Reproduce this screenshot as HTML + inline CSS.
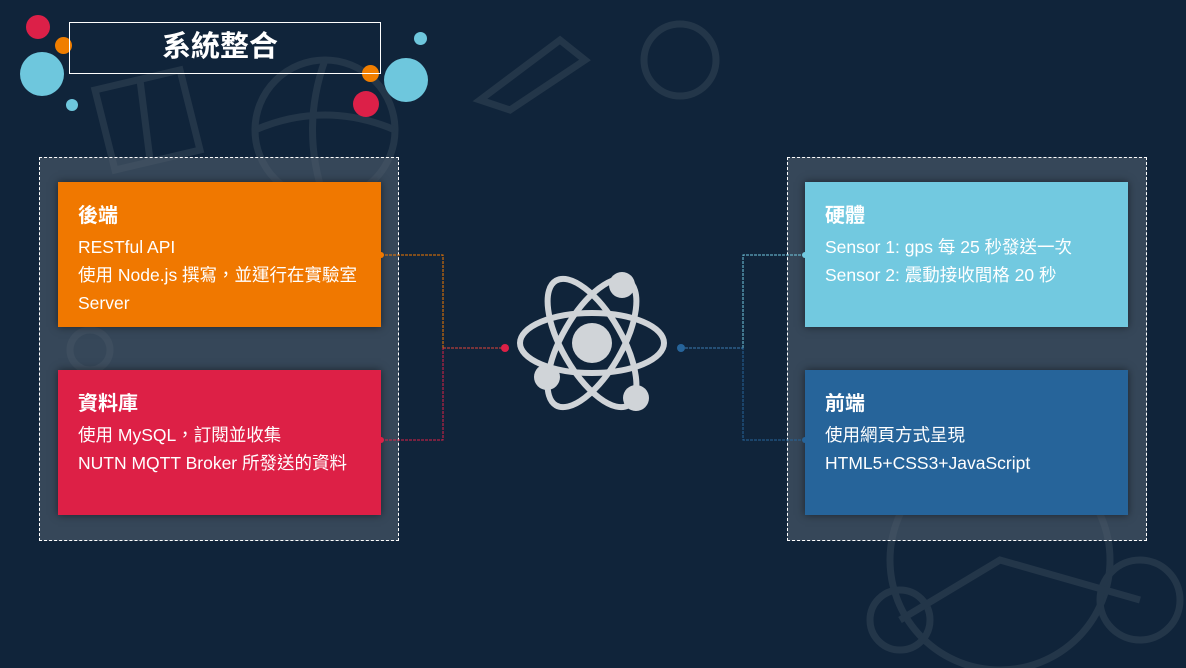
<!DOCTYPE html>
<html><head><meta charset="utf-8"><style>
body{margin:0;width:1186px;height:668px;overflow:hidden;background:#10243a;font-family:"Liberation Sans","Noto Sans CJK TC",sans-serif;position:relative}
.a{position:absolute}
.panel{position:absolute;background:rgba(80,95,110,0.6);border:1px dashed #fff;box-sizing:border-box}
.box{position:absolute;width:323px;height:145px;box-sizing:border-box;padding:17px 20px;color:#fff;box-shadow:0 0 8px rgba(0,0,0,.5)}
.box h3{margin:0 0 5px;font-size:20px;font-weight:bold}
.box p{margin:0;font-size:17.5px;line-height:28px}
.c{position:absolute;border-radius:50%}
</style></head><body>
<svg class="a" style="left:0;top:0" width="1186" height="668">
<g fill="none" stroke="#2c3e50" stroke-width="7" opacity="0.7">
<path d="M95 90 L180 70 L200 150 L115 170 Z"/><path d="M140 80 L150 160"/>
<circle cx="325" cy="130" r="70"/><path d="M255 130 Q325 100 395 130 M325 60 Q300 130 325 200"/>
<circle cx="680" cy="60" r="36"/><path d="M480 100 L560 40 L585 60 L510 110 Z"/>
<circle cx="1000" cy="560" r="110"/><circle cx="1140" cy="600" r="40"/><circle cx="900" cy="620" r="30"/><path d="M900 620 L1000 560 L1140 600"/>
<circle cx="90" cy="350" r="20"/>
</g>
</svg>
<div class="c" style="left:26px;top:15px;width:24px;height:24px;background:#dc2048"></div>
<div class="c" style="left:55px;top:37px;width:17px;height:17px;background:#f07e00"></div>
<div class="c" style="left:20px;top:52px;width:44px;height:44px;background:#6ec7dd"></div>
<div class="c" style="left:66px;top:99px;width:12px;height:12px;background:#6ec7dd"></div>
<div class="c" style="left:414px;top:32px;width:13px;height:13px;background:#6ec7dd"></div>
<div class="c" style="left:384px;top:58px;width:44px;height:44px;background:#6ec7dd"></div>
<div class="c" style="left:362px;top:65px;width:17px;height:17px;background:#f07e00"></div>
<div class="c" style="left:353px;top:91px;width:26px;height:26px;background:#dc2048"></div>
<div class="a" style="left:69px;top:22px;width:312px;height:52px;border:1px solid #fff;box-sizing:border-box;color:#fff;font-size:29px;font-weight:bold;text-align:center;line-height:48px;padding-right:10px">系統整合</div>
<div class="panel" style="left:39px;top:157px;width:360px;height:384px"></div>
<div class="panel" style="left:787px;top:157px;width:360px;height:384px"></div>
<div class="box" style="left:58px;top:182px;background:#f07800"><h3>後端</h3><p>RESTful API<br>使用 Node.js 撰寫，並運行在實驗室<br>Server</p></div>
<div class="box" style="left:58px;top:370px;background:#dd2046"><h3>資料庫</h3><p>使用 MySQL，訂閱並收集<br>NUTN MQTT Broker 所發送的資料</p></div>
<div class="box" style="left:805px;top:182px;background:#72c9e0"><h3>硬體</h3><p>Sensor 1: gps 每 25 秒發送一次<br>Sensor 2: 震動接收間格 20 秒</p></div>
<div class="box" style="left:805px;top:370px;background:#26649a"><h3>前端</h3><p>使用網頁方式呈現<br>HTML5+CSS3+JavaScript</p></div>
<svg class="a" style="left:0;top:0" width="1186" height="668">
<g fill="none" stroke-width="1" stroke-dasharray="3,1">
<path d="M381 255 H443 V348" stroke="#f07800"/><path d="M381 440 H443 V348" stroke="#dd2046"/><path d="M443 348 H505" stroke="#e0443a"/>
<path d="M805 255 H743 V348" stroke="#72c9e0"/><path d="M805 440 H743 V348" stroke="#26649a"/><path d="M681 348 H743" stroke="#3a7ab0"/>
</g>
<circle cx="381" cy="255" r="3" fill="#f07800"/><circle cx="381" cy="440" r="3" fill="#dd2046"/><circle cx="505" cy="348" r="4" fill="#dd2046"/>
<circle cx="805" cy="255" r="3" fill="#72c9e0"/><circle cx="805" cy="440" r="3" fill="#26649a"/><circle cx="681" cy="348" r="4" fill="#26649a"/>
<g fill="none" stroke="#d0d4d8" stroke-width="6">
<ellipse cx="592" cy="343" rx="72" ry="30"/>
<ellipse cx="592" cy="343" rx="72" ry="30" transform="rotate(60 592 343)"/>
<ellipse cx="592" cy="343" rx="72" ry="30" transform="rotate(-60 592 343)"/>
</g>
<g fill="#d0d4d8"><circle cx="592" cy="343" r="20"/><circle cx="622" cy="285" r="13"/><circle cx="547" cy="377" r="13"/><circle cx="636" cy="398" r="13"/></g>
</svg>
</body></html>
